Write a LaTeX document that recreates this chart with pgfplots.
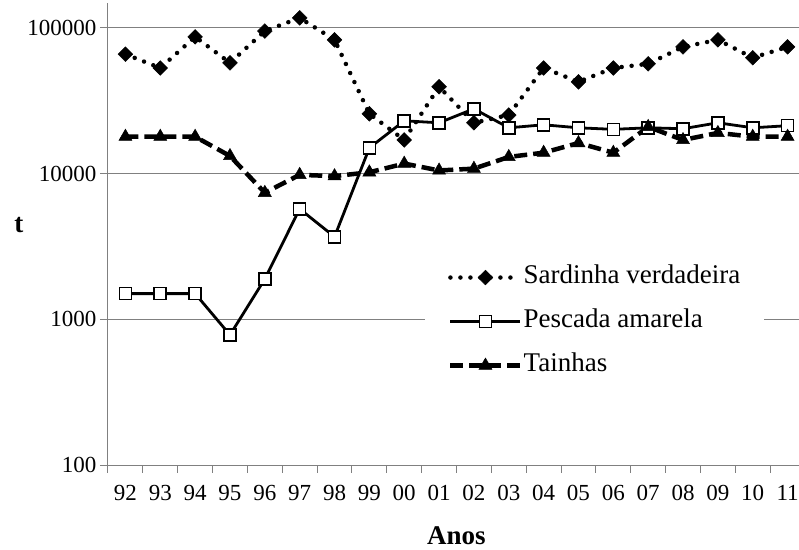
\documentclass[border=0pt]{standalone}
\usepackage{pgfplots}
\pgfplotsset{compat=1.18}
\usepackage{fontspec}
\setmainfont{Liberation Serif}
\begin{document}
\begin{tikzpicture}[x=1pt,y=1pt]
\useasboundingbox (-108,-84) rectangle (691,465);
\begin{axis}[
  at={(0,0)}, anchor=south west,
  scale only axis, width=697pt, height=462pt,
  xmin=-0.5, xmax=19.5,
  ymode=log, ymin=100, ymax=148000,
  axis x line*=bottom, axis y line*=left,
  axis line style={black!50, line width=1pt},
  xtick={-0.5,0.5,...,19.5},
  x tick label as interval,
  xticklabels={92,93,94,95,96,97,98,99,00,01,02,03,04,05,06,07,08,09,10,11},
  ytick={100,1000,10000,100000},
  yticklabels={100,1000,10000,100000},
  yminorticks=false, xminorticks=false,
  ymajorgrids, major grid style={black!50, line width=1pt},
  tick align=outside, major tick length=8pt,
  tick style={black!50, line width=1pt},
  ticklabel style={font=\fontsize{23}{27}\selectfont, text=black},
  xticklabel style={yshift=-9pt},
  /pgf/number format/assume math mode=true,
  xlabel={\textbf{Anos}},
  xlabel style={font=\fontsize{27}{30}\selectfont, at={(axis description cs:0.5,-0.152)}, anchor=center},
  ylabel={\textbf{t}},
  ylabel style={font=\fontsize{27}{30}\selectfont, rotate=-90, at={(axis description cs:-0.1277,0.519)}, anchor=center},
  legend cell align=left,
  legend style={draw=none, fill=white, at={(axis description cs:0.4548,0.443)}, anchor=north west,
    font=\fontsize{27}{30}\selectfont, inner xsep=23pt, inner ysep=4pt,
    nodes={text height=18pt, text depth=6pt, inner sep=1pt}, row sep=18pt},
  legend image code/.code={\draw[mark repeat=2,mark phase=2,#1] plot coordinates {(0pt,0pt) (35pt,0pt) (70pt,0pt)};},
]
\addplot[black, line width=4.5pt, line cap=round, dash pattern=on 0pt off 10pt,
  mark=square*, mark size=5.2pt, mark options={solid, rotate=45, fill=black, line width=0.5pt}]
  coordinates {(0,65900) (1,53000) (2,86700) (3,57500) (4,95000) (5,117000) (6,82700) (7,25700) (8,17000) (9,39400) (10,22300) (11,25200) (12,53000) (13,42600) (14,53000) (15,56600) (16,74000) (17,82700) (18,62300) (19,74000)};
\addlegendentry{Sardinha verdadeira}
\addplot[black, line width=2.8pt,
  mark=square*, mark size=6pt, mark options={solid, fill=white, line width=1.6pt}]
  coordinates {(0,1500) (1,1500) (2,1500) (3,781) (4,1890) (5,5720) (6,3680) (7,15000) (8,23000) (9,22300) (10,27800) (11,20600) (12,21600) (13,20600) (14,20100) (15,20600) (16,20300) (17,22300) (18,20600) (19,21300)};
\addlegendentry{Pescada amarela}
\addplot[black, line width=4.5pt, dash pattern=on 13pt off 6pt,
  mark=triangle*, mark size=7.5pt, mark options={solid, fill=black, line width=0.5pt}]
  coordinates {(0,17900) (1,17900) (2,17900) (3,13200) (4,7380) (5,9800) (6,9600) (7,10200) (8,11700) (9,10500) (10,10800) (11,13000) (12,13900) (13,16200) (14,13900) (15,20900) (16,17000) (17,19000) (18,17900) (19,17900)};
\addlegendentry{Tainhas}
\end{axis}
\end{tikzpicture}
\end{document}
